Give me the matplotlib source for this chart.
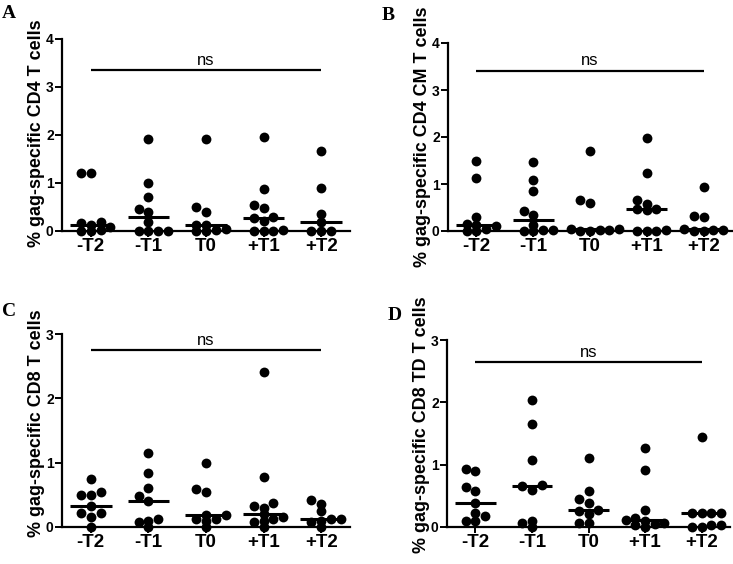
import matplotlib
matplotlib.use("Agg")
import matplotlib.pyplot as plt
import numpy as np

plt.rcParams["font.family"] = ["Liberation Sans", "DejaVu Sans"]

# data
timepoints = ["-T2", "-T1", "T0", "+T1", "+T2"]

cd4 = [
    [1.20, 1.20, 0.18, 0.17, 0.12, 0.08, 0.02, 0.0, 0.0],
    [1.92, 1.01, 0.70, 0.45, 0.40, 0.18, 0.0, 0.0, 0.0, 0.0],
    [1.92, 0.49, 0.40, 0.13, 0.12, 0.05, 0.02, 0.0, 0.0],
    [1.95, 0.88, 0.54, 0.47, 0.30, 0.27, 0.20, 0.02, 0.0, 0.0, 0.0],
    [1.66, 0.89, 0.35, 0.18, 0.0, 0.0, 0.0],
]
cd4_cm = [
    [1.50, 1.12, 0.29, 0.15, 0.12, 0.10, 0.05, 0.0, 0.0],
    [1.46, 1.09, 0.86, 0.43, 0.33, 0.12, 0.03, 0.02, 0.0, 0.0],
    [1.71, 0.67, 0.59, 0.05, 0.04, 0.03, 0.02, 0.0, 0.0],
    [1.97, 1.23, 0.66, 0.57, 0.47, 0.46, 0.45, 0.02, 0.0, 0.0, 0.0],
    [0.94, 0.31, 0.30, 0.04, 0.03, 0.02, 0.0, 0.0],
]
cd8 = [
    [0.74, 0.55, 0.50, 0.50, 0.33, 0.21, 0.21, 0.16, 0.0],
    [1.15, 0.84, 0.60, 0.48, 0.40, 0.12, 0.09, 0.07, 0.0],
    [0.99, 0.59, 0.54, 0.18, 0.18, 0.12, 0.12, 0.09, 0.0],
    [2.41, 0.77, 0.37, 0.33, 0.30, 0.20, 0.16, 0.12, 0.09, 0.08, 0.0],
    [0.42, 0.35, 0.25, 0.13, 0.12, 0.10, 0.08, 0.0],
]
cd8_td = [
    [0.93, 0.90, 0.64, 0.58, 0.39, 0.23, 0.18, 0.10, 0.10],
    [2.03, 1.65, 1.08, 0.67, 0.66, 0.60, 0.10, 0.06, 0.0],
    [1.11, 0.57, 0.45, 0.39, 0.27, 0.26, 0.21, 0.07, 0.07],
    [1.27, 0.91, 0.28, 0.15, 0.12, 0.10, 0.06, 0.05, 0.04, 0.0],
    [1.45, 0.23, 0.23, 0.23, 0.22, 0.04, 0.03, 0.0, 0.0],
]

panel_data = [cd4, cd4_cm, cd8, cd8_td]
panel_letters = ["A", "B", "C", "D"]
ylabels = [
    "% gag-specific CD4 T cells",
    "% gag-specific CD4 CM T cells",
    "% gag-specific CD8 T cells",
    "% gag-specific CD8 TD T cells",
]
ymax = [4, 4, 3, 3]
ns_y = [3.35, 3.41, 2.75, 2.65]

# layout in pixels: left, right, bottom (y=0), top (y=max)
W, H = 733, 564
axes_px = [
    (62, 350, 231, 39),
    (448, 732, 231, 43),
    (62, 350, 527, 334),
    (447, 730, 527, 340),
]
label_ypos = [0.51, 0.5, 0.54, 0.545]
letter_px = [(2, 18), (382, 20), (2, 316), (388, 320)]


def swarm_offsets(ax, x0, values, min_px=5.5, step=0.17):
    """Simple beeswarm: nudge dots sideways until they don't overlap much."""
    placed = []
    offsets = np.zeros(len(values))
    order = np.argsort(values)
    candidates = [0, -1, 1, 2, -2, 3, -3, 4, -4]
    for i in order:
        for c in candidates:
            x = x0 + c * step
            px, py = ax.transData.transform((x, values[i]))
            if all(np.hypot(px - qx, py - qy) > min_px for qx, qy in placed):
                placed.append((px, py))
                offsets[i] = c * step
                break
    return offsets


fig = plt.figure(figsize=(W / 100, H / 100), dpi=100)

for k, data in enumerate(panel_data):
    l, r, b, t = axes_px[k]
    ax = fig.add_axes([l / W, (H - b) / H, (r - l) / W, (b - t) / H])
    ax.set_xlim(-0.5, 4.5)
    ax.set_ylim(0, ymax[k])

    for i, vals in enumerate(data):
        vals = np.array(vals)
        off = swarm_offsets(ax, i, vals)
        ax.scatter(i + off, vals, s=50, color="black", zorder=3, clip_on=False,
                   linewidths=0)
        med = np.median(vals)
        ax.plot([i - 0.36, i + 0.36], [med, med], color="black", lw=2.2,
                zorder=4, solid_capstyle="butt", clip_on=False)

    # significance bar
    ax.plot([0, 4], [ns_y[k], ns_y[k]], color="black", lw=1.6,
            solid_capstyle="butt")
    ax.text(2, ns_y[k] + ymax[k] * 0.012, "ns", ha="center", va="bottom",
            fontsize=12)

    ax.spines["top"].set_visible(False)
    ax.spines["right"].set_visible(False)
    for s in ("left", "bottom"):
        ax.spines[s].set_linewidth(1.6)
    ax.set_xticks(range(len(timepoints)))
    ax.set_xticklabels(timepoints, fontsize=13.5, fontweight="bold")
    ax.set_yticks(range(ymax[k] + 1))
    ax.set_yticklabels([str(v) for v in range(ymax[k] + 1)], fontsize=10,
                       fontweight="bold")
    ax.tick_params(axis="x", direction="out", length=4, width=1.4, pad=1)
    ax.tick_params(axis="y", direction="out", length=5, width=1.4, pad=1)
    ax.set_ylabel(ylabels[k], fontsize=12.9, fontweight="bold")
    ax.yaxis.set_label_coords(-0.06, label_ypos[k])

    lx, ly = letter_px[k]
    fig.text(lx / W, 1 - ly / H, panel_letters[k], fontsize=14,
             fontweight="bold", family=["Liberation Serif", "DejaVu Serif"],
             ha="left", va="baseline")

fig.savefig("out.png", dpi=100)
